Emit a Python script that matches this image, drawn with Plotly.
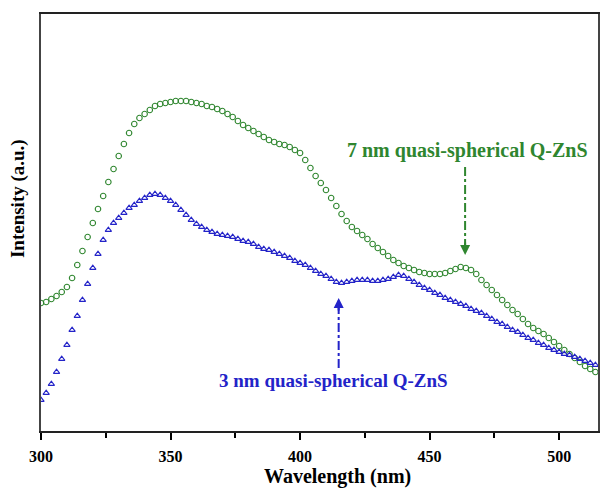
import plotly.graph_objects as go

# Sampling grid (nm)
wavelength = list(range(300, 516, 2))

# 7 nm quasi-spherical Q-ZnS (a.u.)
int_7nm = [128, 129, 132, 135, 139, 144, 153, 166, 180, 194,
           208, 222, 235, 249, 262, 275, 287, 298, 307, 313,
           317, 321, 325, 327, 328, 329, 330, 330, 330, 329,
           328, 327, 325, 324, 322, 320, 317, 314, 310, 306,
           303, 300, 297, 294, 291, 289, 287, 286, 284, 281,
           278, 271, 263, 255, 248, 241, 233, 225, 217, 210,
           204, 200, 196, 192, 187, 183, 179, 175, 171, 168,
           165, 163, 161, 159, 158, 157, 157, 157, 158, 160,
           162, 164, 163, 161, 157, 151, 146, 141, 136, 131,
           126, 121, 117, 112, 107, 103, 100, 97, 93, 89,
           85, 81, 77, 73, 69, 65, 62, 59]

# 3 nm quasi-spherical Q-ZnS (a.u.)
int_3nm = [31, 38, 47, 59, 72, 86, 101, 115, 131, 147,
           163, 177, 191, 201, 208, 213, 218, 223, 226, 230,
           233, 236, 237, 236, 233, 230, 226, 221, 216, 211,
           207, 204, 201, 199, 197, 196, 195, 194, 192, 190,
           189, 187, 184, 182, 181, 179, 177, 175, 173, 170,
           168, 166, 163, 160, 157, 155, 152, 149, 148, 149,
           150, 151, 151, 151, 150, 150, 151, 152, 154, 156,
           155, 152, 149, 146, 143, 141, 138, 136, 133, 131,
           129, 127, 125, 122, 120, 118, 115, 112, 109, 107,
           104, 101, 99, 96, 93, 91, 88, 86, 83, 81,
           79, 77, 76, 74, 72, 70, 68, 66]

tick_vals = [300, 350, 400, 450, 500]
minor_vals = [325, 375, 425, 475]

green = "#2f862f"
blue = "#2323c8"
font_family = "Liberation Serif"

fig = go.Figure()
fig.add_trace(go.Scatter(
    x=wavelength, y=int_7nm, mode="markers",
    marker=dict(symbol="circle-open", size=5.5, color=green, line=dict(width=1.1, color=green)),
    showlegend=False))
fig.add_trace(go.Scatter(
    x=wavelength, y=int_3nm, mode="markers",
    marker=dict(symbol="triangle-up-open", size=5.5, color=blue, line=dict(width=1.1, color=blue)),
    showlegend=False))

# dash-dot arrow shafts
fig.add_shape(type="line", x0=463.7, x1=463.7, y0=264, y1=186,
              line=dict(color=green, width=2, dash="dashdot"))
fig.add_shape(type="line", x0=414.9, x1=414.9, y0=63, y1=124,
              line=dict(color=blue, width=2, dash="dashdot"))
# arrow heads
fig.add_annotation(x=463.7, y=176, ax=0, ay=-14, text="", showarrow=True,
                   arrowhead=2, arrowsize=1, arrowwidth=2, arrowcolor=green,
                   xref="x", yref="y")
fig.add_annotation(x=414.9, y=133, ax=0, ay=14, text="", showarrow=True,
                   arrowhead=2, arrowsize=1, arrowwidth=2, arrowcolor=blue,
                   xref="x", yref="y")

# labels
fig.add_annotation(x=464.5, y=281, text="<b>7 nm quasi-spherical Q-ZnS</b>", showarrow=False,
                   font=dict(family=font_family, size=20, color=green))
fig.add_annotation(x=413, y=51, text="<b>3 nm quasi-spherical Q-ZnS</b>", showarrow=False,
                   font=dict(family=font_family, size=19, color=blue))

# axis titles
fig.add_annotation(x=(339 - 41) / 559, y=-(476 - 431) / 417, xref="paper", yref="paper",
                   text="<b>Wavelength (nm)</b>", showarrow=False,
                   font=dict(family=font_family, size=20, color="black"),
                   xanchor="center", yanchor="middle")
fig.add_annotation(x=-(41 - 18) / 559, y=(431 - 199) / 417, xref="paper", yref="paper",
                   text="<b>Intensity (a.u.)</b>", showarrow=False, textangle=-90,
                   font=dict(family=font_family, size=19, color="black"),
                   xanchor="center", yanchor="middle")

fig.update_layout(
    width=600, height=488,
    margin=dict(l=41, r=0, t=14, b=57),
    paper_bgcolor="white", plot_bgcolor="white",
    font=dict(family=font_family, color="black"),
)
fig.update_xaxes(
    range=[300, 515], tickmode="array", tickvals=tick_vals,
    ticktext=["<b>%d</b>" % v for v in tick_vals],
    ticks="outside", ticklen=7, tickwidth=1.5, tickcolor="black",
    ticklabelstandoff=3,
    minor=dict(tickvals=minor_vals, ticks="outside", ticklen=5, tickwidth=1.5, tickcolor="black"),
    showline=True, linecolor="#222222", linewidth=2, mirror=True,
    showgrid=False, zeroline=False,
    tickfont=dict(family=font_family, size=16, color="black"),
)
fig.update_yaxes(
    range=[0, 417], showticklabels=False, ticks="",
    showline=True, linecolor="#444444", linewidth=1.5, mirror=True,
    showgrid=False, zeroline=False,
)

fig.write_html("out.html", config={"displayModeBar": False},
               post_script="document.body.style.margin='0';document.body.style.overflow='hidden';")
